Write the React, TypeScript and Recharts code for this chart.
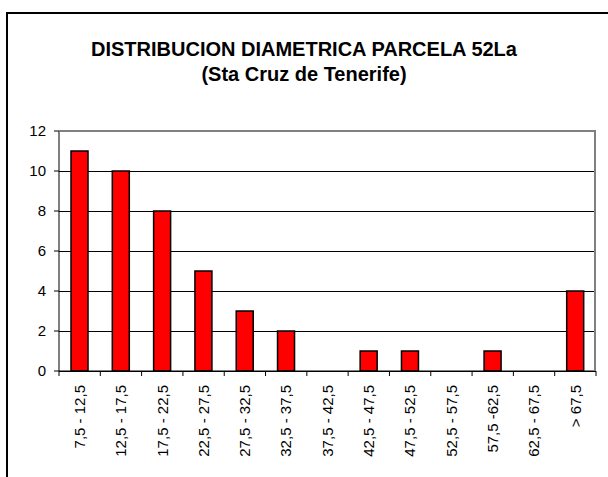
import React from "react";
import { BarChart, Bar, XAxis, YAxis, CartesianGrid } from "recharts";

// clases diamétricas (cm)
const clases = [
  "7,5 - 12,5",
  "12,5 - 17,5",
  "17,5 - 22,5",
  "22,5 - 27,5",
  "27,5 - 32,5",
  "32,5 - 37,5",
  "37,5 - 42,5",
  "42,5 - 47,5",
  "47,5 - 52,5",
  "52,5 - 57,5",
  "57,5 -62,5",
  "62,5 - 67,5",
  "> 67,5",
];
// número de pies por clase
const pies = [11, 10, 8, 5, 3, 2, 0, 1, 1, 0, 1, 0, 4];
const yTicks = [0, 2, 4, 6, 8, 10, 12];

const data = clases.map((c, i) => ({ clase: c, pies: pies[i] }));

const FONT = "Arial, 'Liberation Sans', sans-serif";

const XTick = (props: any) => {
  const { x, y, payload, index, visibleTicksCount } = props;
  const half = payload?.offset ?? 537 / 13 / 2;
  const axisY = y - 14;
  const isLast = index === (visibleTicksCount ?? clases.length) - 1;
  return (
    <g>
      <line x1={x - half} x2={x - half} y1={axisY} y2={axisY + 5} stroke="#000" />
      {isLast && <line x1={x + half} x2={x + half} y1={axisY} y2={axisY + 5} stroke="#000" />}
      <text
        x={x}
        y={y}
        dy="0.35em"
        textAnchor="end"
        transform={`rotate(-90, ${x}, ${y})`}
        fill="#000"
        fontSize={15}
        fontFamily={FONT}
      >
        {payload.value}
      </text>
    </g>
  );
};

export default function App() {
  return (
    <div style={{ position: "absolute", left: 0, top: 0, width: 608, height: 477, background: "#fff", overflow: "hidden" }}>
      <div
        style={{
          position: "absolute",
          left: 6,
          top: 12,
          width: 620,
          height: 500,
          border: "2px solid #000",
          boxSizing: "border-box",
        }}
      />
      <div
        style={{
          position: "absolute",
          left: 0,
          width: 608,
          top: 37,
          textAlign: "center",
          fontFamily: FONT,
          fontWeight: "bold",
          fontSize: 20,
          lineHeight: "25px",
          color: "#000",
        }}
      >
        <div>DISTRIBUCION DIAMETRICA PARCELA 52La</div>
        <div>(Sta Cruz de Tenerife)</div>
      </div>
      <div style={{ position: "absolute", left: 0, top: 0 }}>
        <BarChart
          width={608}
          height={477}
          data={data}
          margin={{ top: 131, right: 12, bottom: 0, left: 9 }}
        >
          <CartesianGrid vertical={false} stroke="#000" strokeOpacity={1} shapeRendering="crispEdges" />
          <XAxis
            dataKey="clase"
            interval={0}
            height={106}
            tickLine={false}
            tickSize={5}
            tickMargin={9}
            axisLine={{ stroke: "#000" }}
            tick={<XTick />}
          />
          <YAxis
            width={50}
            domain={[0, 12]}
            ticks={yTicks}
            interval={0}
            tickSize={5}
            tickMargin={8}
            axisLine={{ stroke: "#000" }}
            tickLine={{ stroke: "#000" }}
            tick={{ fill: "#000", fontSize: 15, fontFamily: FONT }}
          />
          <Bar dataKey="pies" fill="#FF0000" stroke="#000" strokeWidth={1.5} barSize={17} isAnimationActive={false} />
        </BarChart>
      </div>
      <div
        style={{
          position: "absolute",
          left: 59,
          top: 130,
          width: 537,
          height: 241,
          borderTop: "2px solid #808080",
          borderRight: "2px solid #808080",
          boxSizing: "border-box",
          pointerEvents: "none",
        }}
      />
    </div>
  );
}
